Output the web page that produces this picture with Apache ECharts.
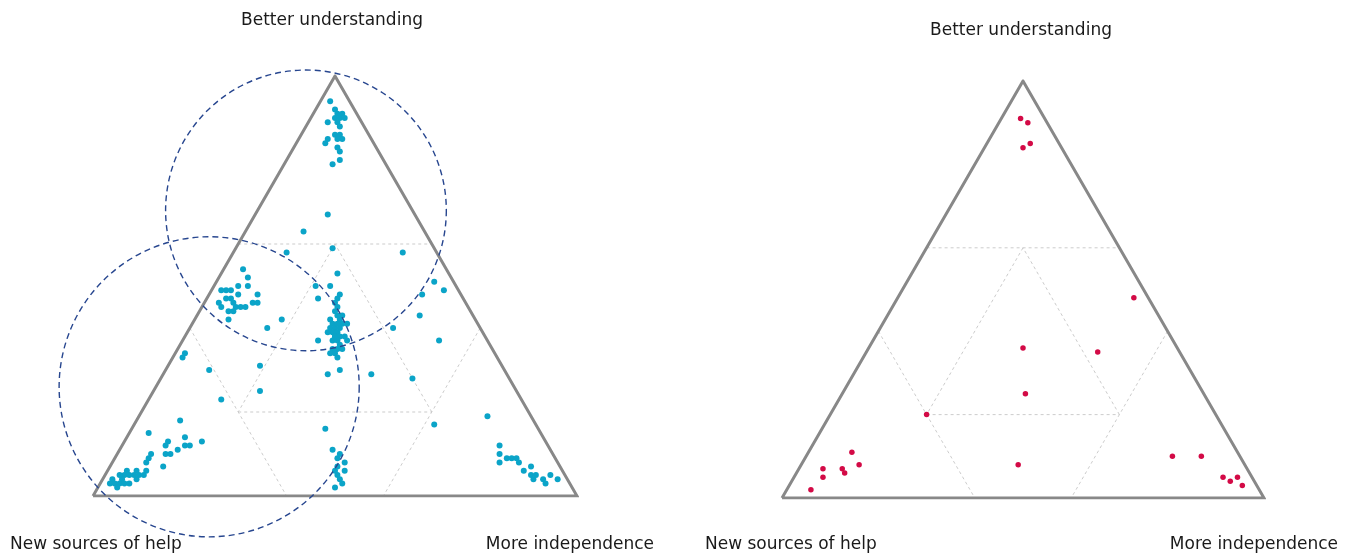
<!DOCTYPE html>
<html>
<head>
<meta charset="utf-8">
<script src="https://cdn.jsdelivr.net/npm/echarts@6/dist/echarts.min.js"></script>
<style>
  html, body { margin: 0; padding: 0; background: #fff; }
  #chart { width: 1354px; height: 555px; }
</style>
</head>
<body>
<div id="chart"></div>
<script>
// Corner labels of each ternary plot: [top, bottom-left, bottom-right]
const cornerLabels = ['Better understanding', 'New sources of help', 'More independence'];

// Responses as [better understanding, new sources of help, more independence] in percent
const leftPoints = [
  [94,4,2],[92,4,4],[91,4,5],[91,3,6],[90,4,6],[90,5,5],[90,3,7],[89,5,6],[89,7,4],[88,5,7],
  [86,7,7],[86,6,8],[85,9,6],[85,7,8],[85,6,9],[84,10,6],[83,8,9],[82,8,10],[80,9,11],[79,11,10],
  [67,18,15],[63,25,12],[58,31,11],[59,21,20],[58,7,35],
  [54,42,4],[52,42,6],[50,45,5],[50,43,7],[49,49,2],[49,48,3],[49,47,4],[48,46,6],[48,42,10],[47,49,4],
  [47,48,5],[46,51,3],[45,48,7],[46,48,6],[45,47,8],[45,46,9],[46,44,10],[46,43,11],[45,51,4],[44,49,7],
  [44,50,6],[42,51,7],[42,40,18],[40,44,16],[34,64,2],[33,65,2],
  [53,23,24],[50,29,21],[50,26,24],[48,25,27],[47,30,23],[47,26,27],[46,27,27],[45,27,28],[44,28,28],[43,27,30],
  [42,30,28],[42,28,30],[41,27,32],[41,28,31],[41,30,29],[40,31,29],[40,30,30],[40,29,31],[39,31,30],[39,32,29],
  [39,30,31],[38,29,33],[38,31,31],[38,30,32],[37,32,31],[37,31,32],[37,35,28],[37,29,34],[35,33,32],[35,32,33],
  [35,31,34],[34,34,32],[34,33,33],[33,33,34],[41,29,30],[43,28,29],[36,31,33],[38,31,31],
  [51,4,45],[49,3,48],[48,8,44],[43,11,46],[40,18,42],[37,10,53],
  [29,37,34],[30,34,36],[29,28,43],[28,20,52],[31,50,19],[25,53,22],[30,61,9],[23,62,15],
  [18,73,9],[15,81,4],[13,78,9],[12,79,9],[14,74,12],[12,75,13],[12,74,14],[13,71,16],[10,80,10],[10,79,11],
  [11,77,12],[10,83,7],[9,84,7],[7,82,11],[8,85,7],[6,86,8],[5,87,8],[6,88,6],[5,89,6],[6,90,4],
  [5,91,4],[5,90,5],[4,92,4],[5,92,3],[4,94,2],[3,94,3],[3,93,4],[2,94,4],[3,92,5],[3,91,6],
  [3,95,2],[4,89,7],[5,88,7],
  [16,44,40],[11,45,44],[10,44,46],[9,45,46],[8,44,48],[7,46,47],[6,47,47],[6,45,49],[5,47,48],[4,47,49],
  [3,47,50],[2,49,49],
  [17,21,62],[19,9,72],[12,10,78],[10,11,79],[9,10,81],[9,9,82],[8,12,80],[9,8,83],[8,8,84],[7,6,87],
  [6,8,86],[5,7,88],[4,7,89],[5,6,89],[4,5,91],[3,5,92],[5,3,92],[4,2,94]
];

const rightPoints = [
  [91,5,4],[90,4,6],[85,6,9],[84,8,8],[48,3,49],[36,32,32],[35,17,48],[25,37,38],[20,60,20],[8,47,45],
  [11,80,9],[8,80,12],[7,88,5],[7,84,9],[6,84,10],[5,89,6],[2,93,5],
  [10,14,76],[10,8,82],[5,6,89],[5,3,92],[4,5,91],[3,3,94]
];

// Highlighted groups on the left plot: centre composition and radius (percent of side)
const leftCircleCenters = [[68,22,10],[26,63,11]];
const leftCircleRadii = [29, 31];

// Region boundaries: each segment joins two compositions (percent)
const regionSegments = [
  [[60,40,0],[60,0,40]],
  [[40,60,0],[0,60,40]],
  [[40,0,60],[0,40,60]],
  [[60,20,20],[20,60,20]],
  [[20,60,20],[20,20,60]],
  [[20,20,60],[60,20,20]]
];

const H = Math.sqrt(3) / 2;
function toXY(p) {
  const s = p[0] + p[1] + p[2];
  const a = p[0] / s, c = p[2] / s;
  return [c + a / 2, a * H];
}
const outline = [[0,100,0],[0,0,100],[100,0,0],[0,100,0]].map(toXY);

const grids = [
  { left: 93, top: 76, width: 484, height: 420 },
  { left: 782, top: 81, width: 482, height: 417 }
];

const series = [];
function addPlot(gi, points, color, size) {
  regionSegments.forEach(seg => {
    series.push({
      type: 'line', xAxisIndex: gi, yAxisIndex: gi, data: seg.map(toXY),
      symbol: 'none', silent: true, z: 1,
      lineStyle: { color: '#cccccc', width: 1, type: [3, 3] }
    });
  });
  series.push({
    type: 'line', xAxisIndex: gi, yAxisIndex: gi, data: outline,
    symbol: 'none', silent: true, z: 2,
    lineStyle: { color: '#888888', width: 3, join: 'miter' }
  });
  series.push({
    type: 'scatter', xAxisIndex: gi, yAxisIndex: gi, data: points.map(toXY),
    symbolSize: size, z: 3,
    itemStyle: { color: color, opacity: 1 }
  });
}
addPlot(0, leftPoints, '#0ba4c8', 6);
addPlot(1, rightPoints, '#d30a46', 5.5);

series.push({
  type: 'custom', xAxisIndex: 0, yAxisIndex: 0, z: 4, clip: false, silent: true,
  data: leftCircleCenters.map((c, i) => toXY(c).concat([leftCircleRadii[i] / 100])),
  encode: { x: 0, y: 1 },
  renderItem: function (params, api) {
    const p = api.coord([api.value(0), api.value(1)]);
    const r = api.size([api.value(2), 0])[0];
    return {
      type: 'circle',
      shape: { cx: p[0], cy: p[1], r: r },
      style: { fill: 'none', stroke: '#27468f', lineWidth: 1.4, lineDash: [6, 4] }
    };
  }
});

function label(text, x, y, align) {
  return {
    type: 'text', x: x, y: y, silent: true,
    style: { text: text, textAlign: align, textVerticalAlign: 'middle', fill: '#1a1a1a', font: '17px "DejaVu Sans"' }
  };
}

const chart = echarts.init(document.getElementById('chart'), null, { renderer: 'canvas' });
chart.setOption({
  animation: false,
  backgroundColor: '#ffffff',
  grid: grids,
  xAxis: grids.map((g, i) => ({ type: 'value', gridIndex: i, min: 0, max: 1, show: false })),
  yAxis: grids.map((g, i) => ({ type: 'value', gridIndex: i, min: 0, max: H, show: false })),
  graphic: [
    label(cornerLabels[0], 332, 21, 'center'),
    label(cornerLabels[1], 10, 545, 'left'),
    label(cornerLabels[2], 654, 545, 'right'),
    label(cornerLabels[0], 1021, 31, 'center'),
    label(cornerLabels[1], 705, 545, 'left'),
    label(cornerLabels[2], 1338, 545, 'right')
  ],
  series: series
});
</script>
</body>
</html>
